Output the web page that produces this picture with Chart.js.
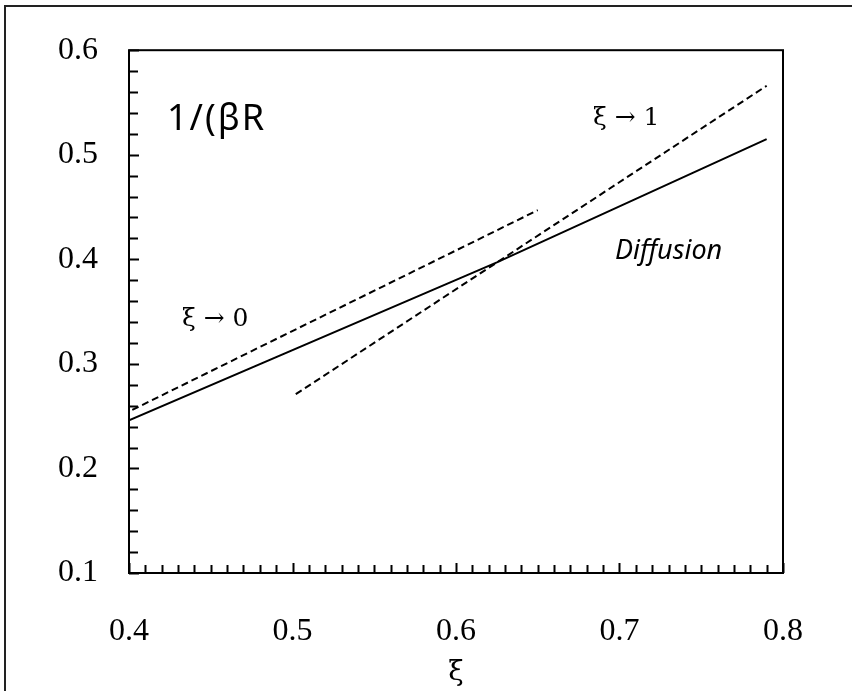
<!DOCTYPE html>
<html><head><meta charset="utf-8">
<script src="https://cdn.jsdelivr.net/npm/chart.js@4"></script>
<style>
html,body{margin:0;padding:0;background:#fff;overflow:hidden}
#wrap{position:relative;width:852px;height:691px;overflow:hidden}
#frame{position:absolute;left:4px;top:5px;width:900px;height:900px;border-left:2px solid #222;border-top:2px solid #222;pointer-events:none}
canvas{position:absolute;left:0;top:0}
</style></head><body>
<div id="wrap"><canvas id="c" width="852" height="691"></canvas><div id="frame"></div></div>
<script>
// ---- data ----
const xDiffusion = [0.400, 0.625, 0.790];
const yDiffusion = [0.246, 0.397, 0.515];
const xLimit0 = [0.402, 0.650];
const yLimit0 = [0.256, 0.447];
const xLimit1 = [0.502, 0.790];
const yLimit1 = [0.271, 0.566];
const xTickLabels = [0.4, 0.5, 0.6, 0.7, 0.8];
const yTickLabels = [0.1, 0.2, 0.3, 0.4, 0.5, 0.6];
const labelTexts = ['1/(βR', 'ξ → 1', 'ξ → 0', 'Diffusion'];
const labelX = [0.4232, 0.6838, 0.4324, 0.6972];
const labelY = [0.5333, 0.5343, 0.3429, 0.4076];

const toPts = (xs, ys) => xs.map((v, i) => ({x: v, y: ys[i]}));
const near = (v, arr) => arr.some(a => Math.abs(a - v) < 1e-6);
const labelFonts = ['36px "Noto Sans"', '25px "DejaVu Serif"', '25px "DejaVu Serif"', 'italic 27px "Noto Sans"'];
const labelSpacing = ['2px', '0px', '0px', '0px'];

const boxTicks = {
  id: 'boxTicks',
  afterDraw(chart) {
    const {ctx, chartArea: a, scales: {x, y}} = chart;
    ctx.save();
    ctx.strokeStyle = '#000';
    ctx.lineWidth = 2;
    ctx.beginPath();
    x.ticks.forEach(t => {
      const px = Math.round(x.getPixelForValue(t.value)) + 0.5;
      const len = near(t.value, xTickLabels) ? 10 : 8;
      ctx.moveTo(px, a.bottom); ctx.lineTo(px, a.bottom - len);
    });
    y.ticks.forEach(t => {
      const py = Math.round(y.getPixelForValue(t.value)) + 0.5;
      const len = near(t.value, yTickLabels) ? 10 : 9;
      ctx.moveTo(a.left, py); ctx.lineTo(a.left + len, py);
    });
    ctx.stroke();
    ctx.strokeRect(a.left, a.top, a.right - a.left, a.bottom - a.top);
    ctx.fillStyle = '#000';
    ctx.textAlign = 'left';
    ctx.textBaseline = 'middle';
    labelTexts.forEach((s, i) => {
      ctx.font = labelFonts[i];
      if ('letterSpacing' in ctx) ctx.letterSpacing = labelSpacing[i];
      ctx.fillText(s, x.getPixelForValue(labelX[i]), y.getPixelForValue(labelY[i]));
    });
    ctx.restore();
  }
};

const dsBase = {showLine: true, pointRadius: 0, borderColor: '#000', borderWidth: 2, fill: false, tension: 0};

new Chart(document.getElementById('c'), {
  type: 'scatter',
  data: {
    datasets: [
      Object.assign({label: 'Diffusion', data: toPts(xDiffusion, yDiffusion)}, dsBase),
      Object.assign({label: 'ξ→0', data: toPts(xLimit0, yLimit0), borderDash: [7, 4]}, dsBase),
      Object.assign({label: 'ξ→1', data: toPts(xLimit1, yLimit1), borderDash: [7, 4]}, dsBase)
    ]
  },
  options: {
    responsive: false,
    animation: false,
    layout: {padding: {left: 0, top: 48, right: 69, bottom: 0}},
    plugins: {legend: {display: false}, tooltip: {enabled: false}},
    scales: {
      x: {
        type: 'linear', min: 0.4, max: 0.8,
        grid: {display: false, drawTicks: false},
        border: {display: false},
        ticks: {
          stepSize: 0.01, autoSkip: false, maxRotation: 0, padding: 39,
          color: '#000', font: {family: '"Liberation Serif"', size: 32},
          callback: v => near(v, xTickLabels) ? v.toFixed(1) : ''
        },
        title: {display: true, text: 'ξ', color: '#000', font: {family: '"DejaVu Serif"', size: 28, lineHeight: 1.2}, padding: {top: 0, bottom: 1}},
        afterFit: s => { s.height = 118; }
      },
      y: {
        type: 'linear', min: 0.1, max: 0.6,
        grid: {display: false, drawTicks: false},
        border: {display: false},
        ticks: {
          stepSize: 0.02, autoSkip: false, padding: 31,
          color: '#000', font: {family: '"Liberation Serif"', size: 32},
          callback: v => near(v, yTickLabels) ? v.toFixed(1) : ''
        },
        afterFit: s => { s.width = 129; }
      }
    }
  },
  plugins: [boxTicks]
});
</script>
</body></html>
